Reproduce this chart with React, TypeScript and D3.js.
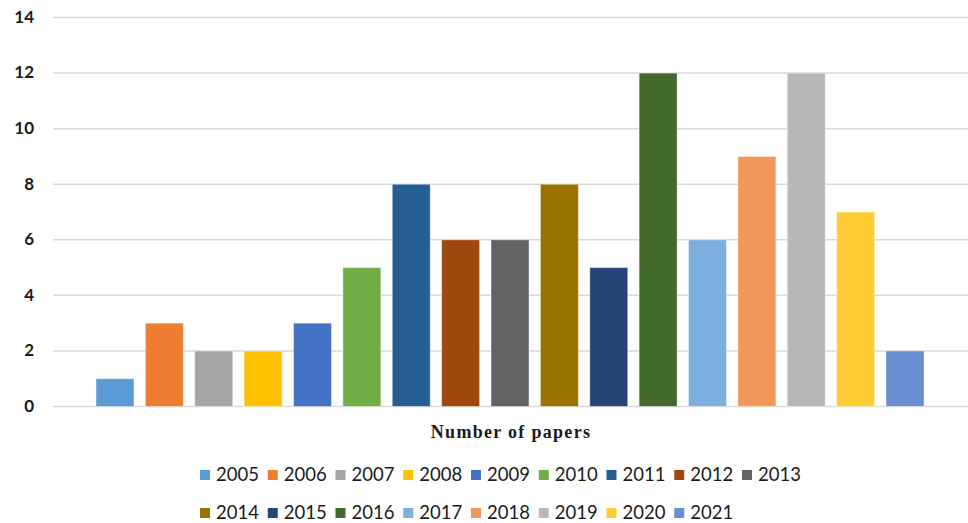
import React from "react";
import * as d3 from "d3";

const years = ["2005","2006","2007","2008","2009","2010","2011","2012","2013","2014","2015","2016","2017","2018","2019","2020","2021"];
const papers = [1, 3, 2, 2, 3, 5, 8, 6, 6, 8, 5, 12, 6, 9, 12, 7, 2];
const colors = ["#5B9BD5","#ED7D31","#A5A5A5","#FFC000","#4472C4","#70AD47","#255E91","#9E480E","#636363","#997300","#264478","#43682B","#7CAFDD","#F1975A","#B7B7B7","#FFCD33","#698ED0"];
const yTicks = [0, 2, 4, 6, 8, 10, 12, 14];
const xTitle = "Number of papers";

const W = 968;
const H = 523;

export default function App() {
  const x = d3.scaleBand<string>().domain(years).range([90.3, 929.7]).paddingInner(0.23).paddingOuter(0.115);
  const y = d3.scaleLinear().domain([0, 14]).range([406.5, 17.5]);
  const gridX0 = 53;
  const gridX1 = 968;
  const legendStep = 67.75;
  const legendX0 = 200;
  const rows = [years.slice(0, 9), years.slice(9)];
  const rowY = [475, 513];
  return (
    <svg width={W} height={H} style={{ position: "absolute", left: 0, top: 0, background: "#fff" }}>
      <rect x={0} y={0} width={W} height={H} fill="#fff" />
      {yTicks.map((t) => (
        <g key={t}>
          <line x1={gridX0} x2={gridX1} y1={y(t)} y2={y(t)} stroke="#d9d9d9" strokeWidth={1.5} />
          <text x={34} y={y(t) + 1} textAnchor="end" dominantBaseline="middle" fontFamily="Lato, 'Open Sans', sans-serif" fontWeight="bold" fontSize={17} fill="#1a1a1a">{t}</text>
        </g>
      ))}
      {years.map((yr, i) => (
        <rect key={yr} x={x(yr)} y={y(papers[i])} width={x.bandwidth()} height={y(0) - y(papers[i])} fill={colors[i]} stroke="#ffffff" strokeOpacity={0.45} strokeWidth={1} />
      ))}
      <text x={511} y={438} textAnchor="middle" fontFamily="'Liberation Serif', 'DejaVu Serif', serif" fontWeight="bold" fontSize={18} letterSpacing={1.3} fill="#1a1a1a">{xTitle}</text>
      {rows.map((row, r) =>
        row.map((yr, j) => {
          const idx = years.indexOf(yr);
          const lx = legendX0 + j * legendStep;
          return (
            <g key={yr}>
              <rect x={lx} y={rowY[r] - 5} width={10} height={10} fill={colors[idx]} />
              <text x={lx + 16} y={rowY[r] + 5.5} fontFamily="Lato, 'Open Sans', sans-serif" fontSize={18.5} fill="#1a1a1a">{yr}</text>
            </g>
          );
        })
      )}
    </svg>
  );
}
